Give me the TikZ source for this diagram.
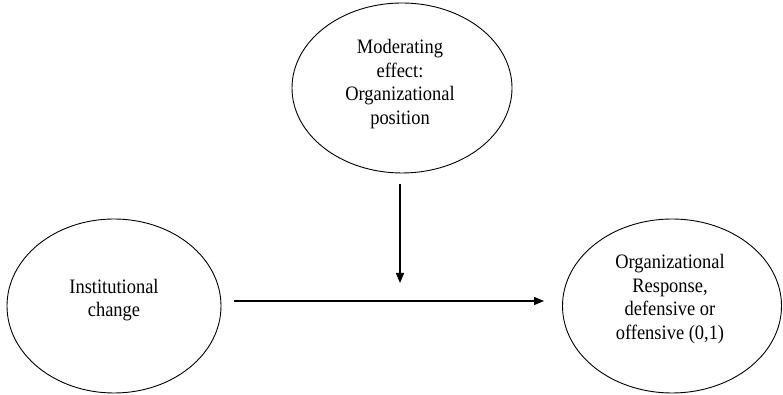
\documentclass[tikz,border=0pt]{standalone}
\usepackage{fontspec}
\setmainfont{Liberation Serif}[FakeStretch=0.9]
\usetikzlibrary{arrows.meta,shapes.geometric}
\begin{document}
\begin{tikzpicture}[x=1pt,y=1pt,
  oval/.style={draw, line width=0.9pt, ellipse, inner sep=0pt},
  lbl/.style={align=center, font=\fontsize{20.5}{23.5}\selectfont, inner sep=0pt},
  arr/.style={line width=1.3pt, -{Triangle[length=10pt,width=8pt]}}]
\useasboundingbox (0,0) rectangle (783,395);
\node[oval, minimum width=220pt, minimum height=170pt] (M) at (402,307) {};
\node[oval, minimum width=214pt, minimum height=174pt] (L) at (114,89) {};
\node[oval, minimum width=219pt, minimum height=174pt] (R) at (672,89) {};
\node[lbl] (Mt) at (400,311) {Moderating\\effect:\\Organizational\\position};
\node[lbl] (Lt) at (114,95) {Institutional\\change};
\node[lbl] (Rt) at (670,96) {Organizational\\Response,\\defensive or\\offensive (0,1)};
\coordinate (hs) at (234,94);
\coordinate (he) at (544,94);
\coordinate (vs) at (400,211);
\coordinate (ve) at (400,112);
\draw[arr] (hs) -- (he);
\draw[arr] (vs) -- (ve);
\end{tikzpicture}
\end{document}
